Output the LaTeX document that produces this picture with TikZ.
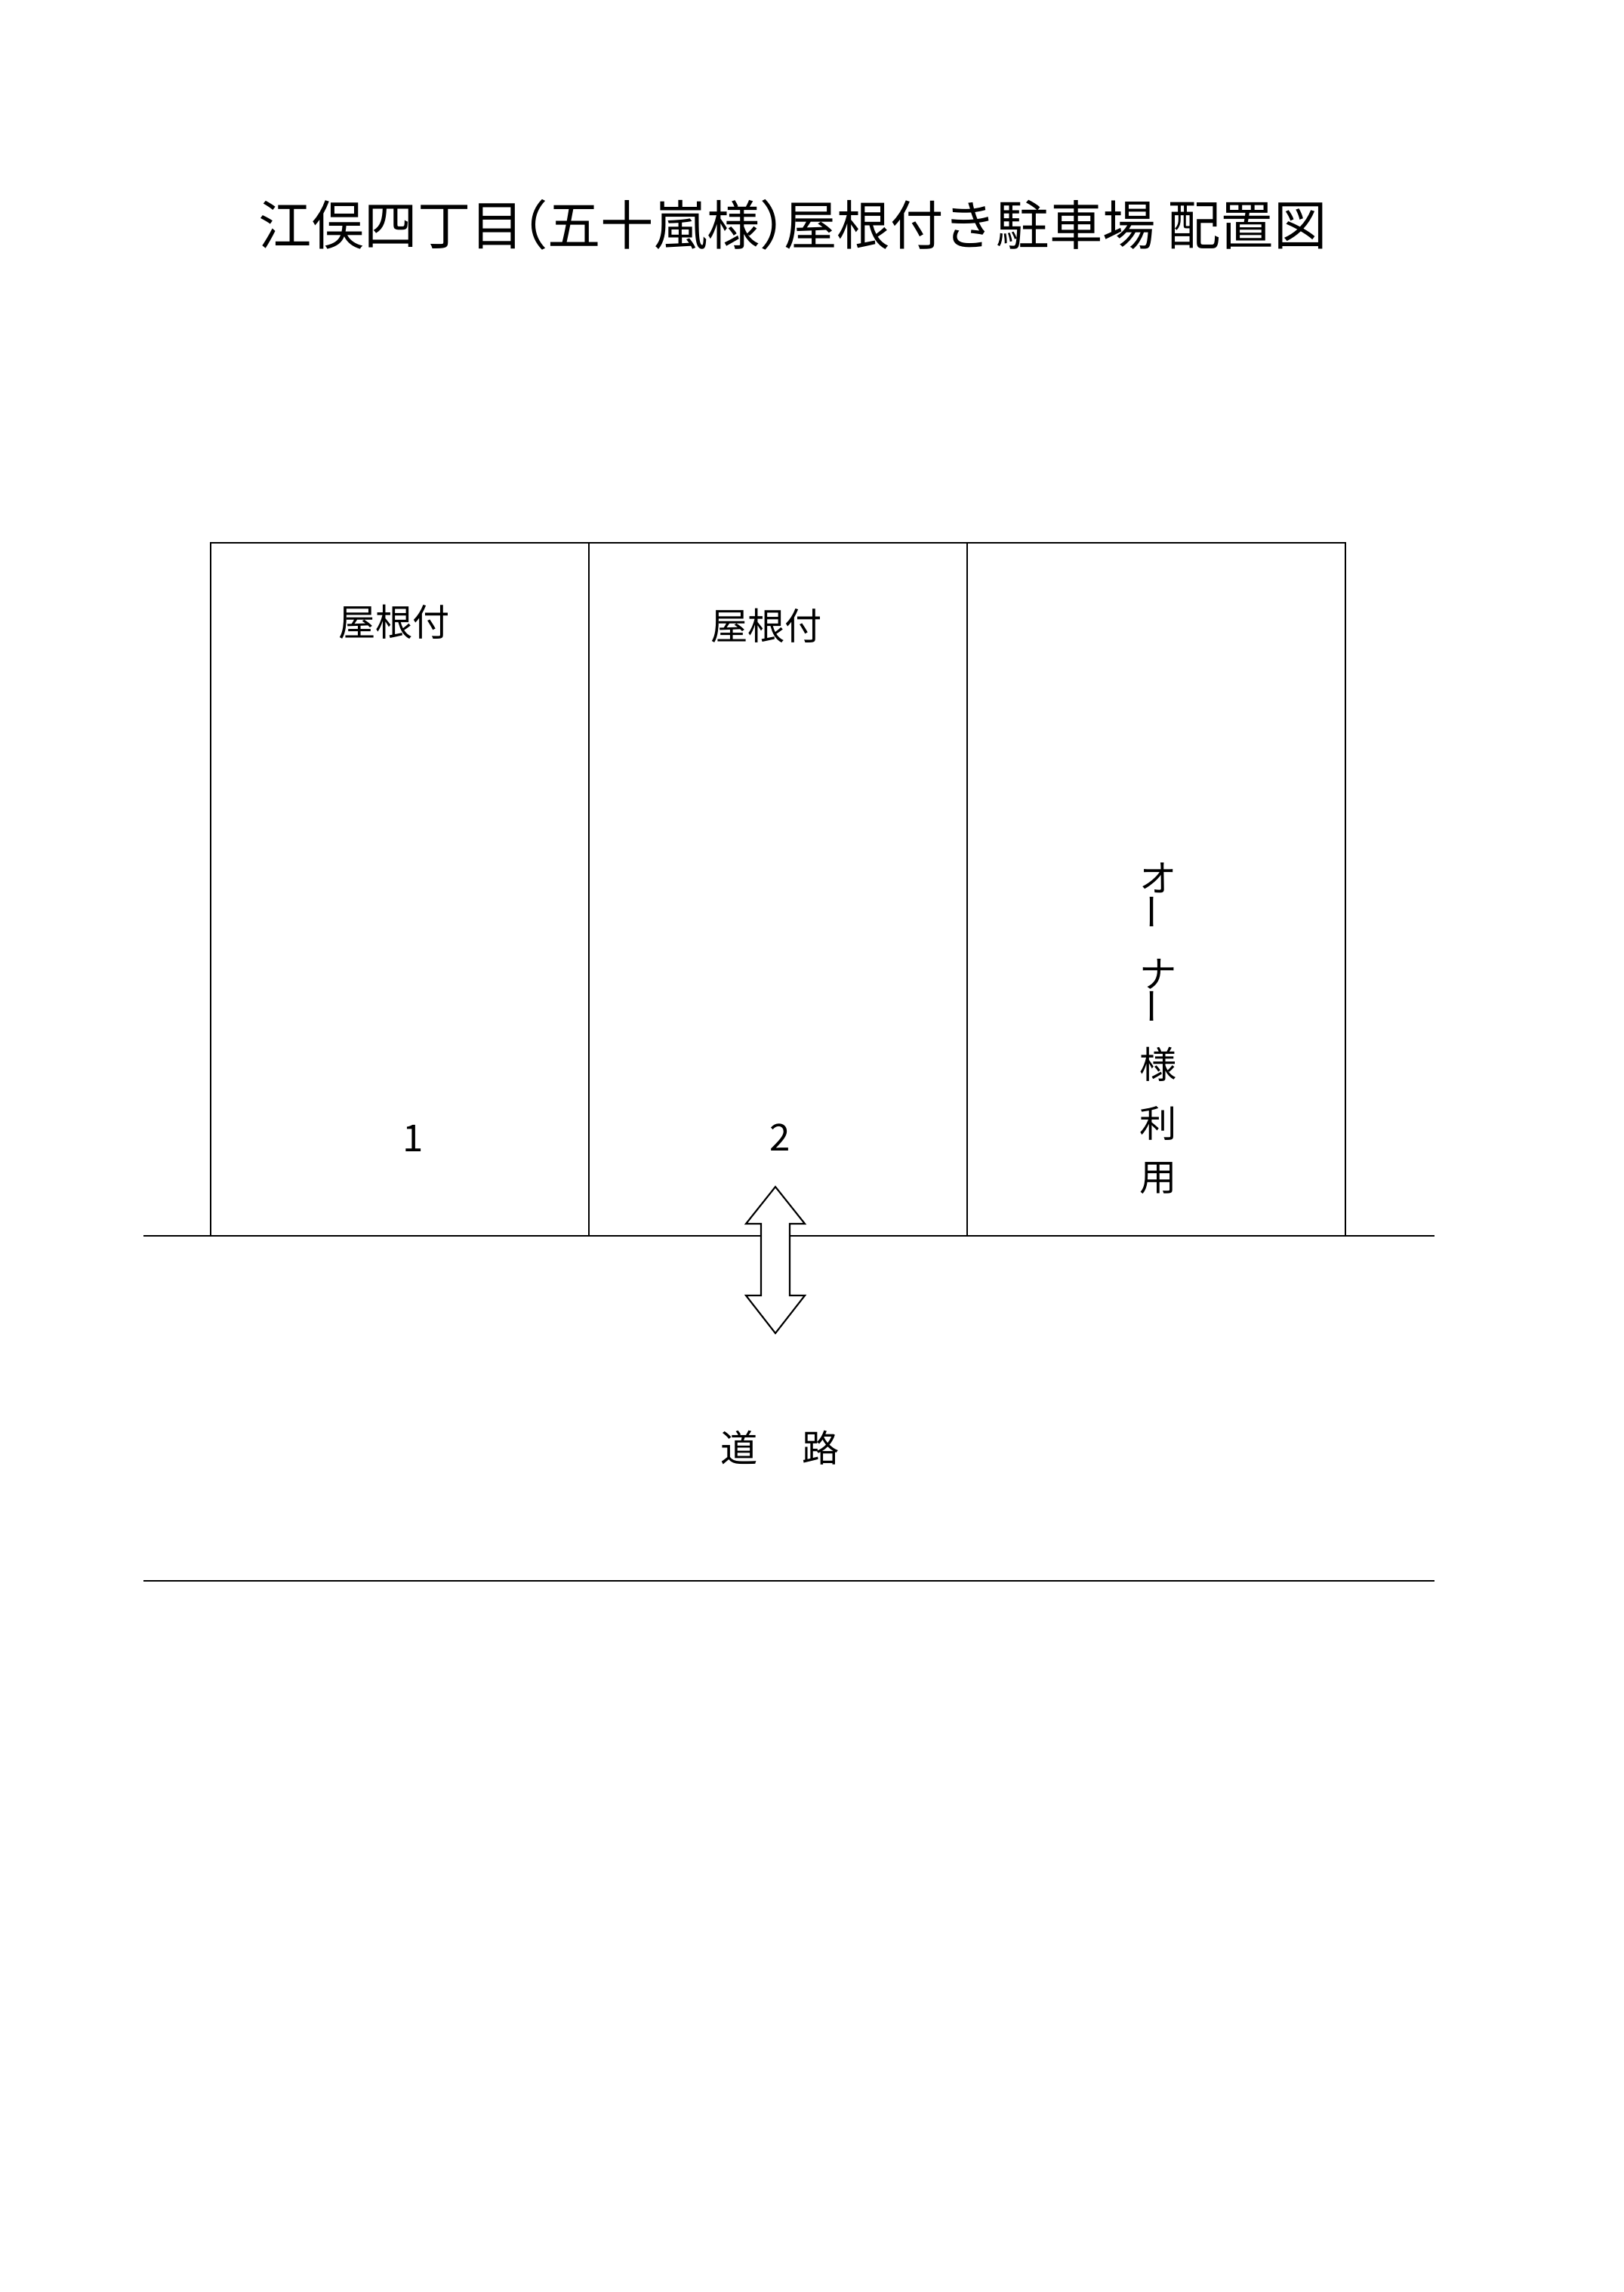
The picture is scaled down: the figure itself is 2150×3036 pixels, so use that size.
\documentclass[tikz,border=0pt]{standalone}
\usepackage{fontspec}
\setmainfont{Noto Sans CJK JP}
\usetikzlibrary{positioning}

\begin{document}
\begin{tikzpicture}[x=0.01cm,y=-0.01cm,line width=0.6pt,
        lbl/.style={inner sep=0pt,font=\fontsize{14}{17}\selectfont}]

                \tikzset{bar/.style={lbl, rotate=90}}

                \useasboundingbox (0,0) rectangle (2150,3036);

                \node[inner sep=0pt, font=\fontsize{20}{24}\selectfont] (title) at (1050,298)
                    {江俣四丁目\hspace{-.55em}（五十嵐様）\hspace{-.55em}屋根付き駐車場 配置図};

                \draw (279,1637) -- (279,719) -- (1782,719) -- (1782,1637);
                \draw (780,719) -- (780,1637);
                \draw (1281,719) -- (1281,1637);
                \draw (190,1637) -- (1900,1637);
                \draw (190,2094) -- (1900,2094);

                \node[lbl] (roofA) at (522,824) {屋根付};
                \node[lbl] (roofB) at (1015,829) {屋根付};
                \node[lbl] (numA) at (547,1508) {1};
                \node[lbl] (numB) at (1033,1507) {2};

                \node[lbl] (ownA) at (1534,1163) {オ};
                \node[bar] (ownB) at (1534,1208) {ー};
                \node[lbl] (ownC) at (1534,1290) {ナ};
                \node[bar] (ownD) at (1534,1333) {ー};
                \node[lbl] (ownE) at (1534,1410) {様};
                \node[lbl] (ownF) at (1534,1488) {利};
                \node[lbl] (ownG) at (1534,1561) {用};

                \draw[fill=white] (1027,1572) -- (1066,1621) -- (1046,1621) -- (1046,1716) -- (1066,1716)
                    -- (1027,1766) -- (988,1716) -- (1008,1716) -- (1008,1621) -- (988,1621) -- cycle;

                \node[lbl] (road) at (1033,1918) {道\hspace{1.18em}路};
            \end{tikzpicture}
\end{document}
